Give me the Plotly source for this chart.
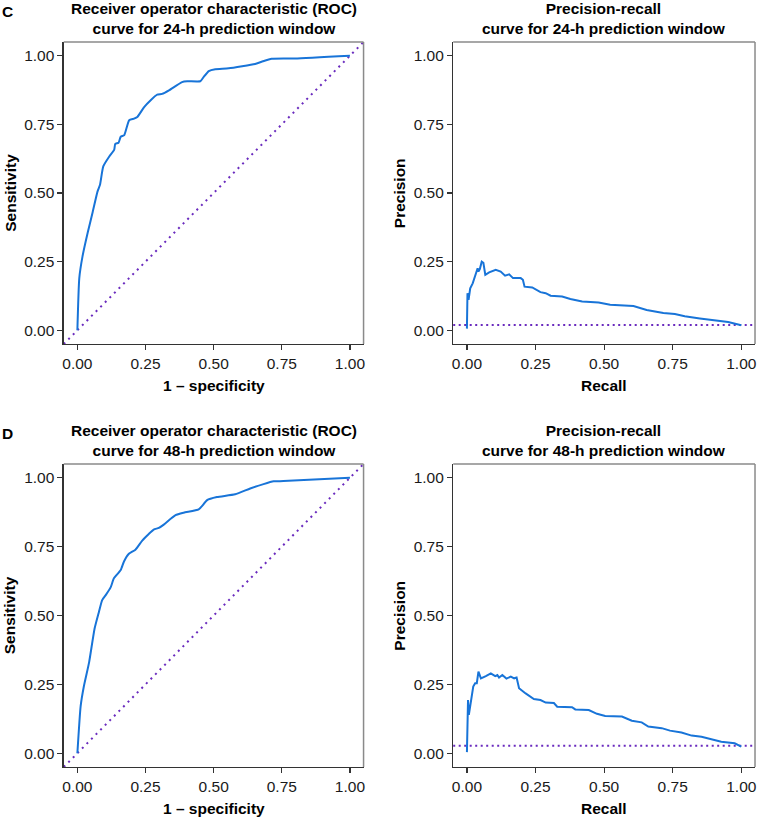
import plotly.graph_objects as go

# ---------------- data ----------------
roc24_fpr = [0.0, 0.007, 0.019, 0.038, 0.056, 0.074, 0.083, 0.095, 0.117, 0.135, 0.139, 0.151, 0.159, 0.172,
             0.190, 0.208, 0.220, 0.245, 0.269, 0.293, 0.311, 0.336, 0.384, 0.403, 0.451, 0.463, 0.482, 0.506,
             0.555, 0.652, 0.676, 0.713, 0.798, 1.0]
roc24_tpr = [0.0, 0.19, 0.27, 0.356, 0.43, 0.506, 0.53, 0.597, 0.633, 0.657, 0.679, 0.683, 0.705, 0.711,
             0.765, 0.771, 0.777, 0.813, 0.838, 0.858, 0.861, 0.874, 0.904, 0.907, 0.907, 0.922, 0.944, 0.951,
             0.954, 0.970, 0.978, 0.989, 0.990, 1.0]

roc48_fpr = [0.0, 0.012, 0.024, 0.043, 0.063, 0.079, 0.091, 0.104, 0.122, 0.134, 0.159, 0.171, 0.189, 0.213,
             0.238, 0.262, 0.280, 0.299, 0.317, 0.360, 0.390, 0.445, 0.457, 0.476, 0.512, 0.579, 0.634, 0.683,
             0.720, 0.756, 1.0]
roc48_tpr = [0.0, 0.171, 0.244, 0.33, 0.452, 0.513, 0.556, 0.574, 0.602, 0.635, 0.665, 0.696, 0.724, 0.739,
             0.772, 0.796, 0.812, 0.818, 0.830, 0.864, 0.873, 0.885, 0.897, 0.919, 0.930, 0.940, 0.961, 0.977,
             0.987, 0.988, 1.0]

pr24_recall = [0.0, 0.002, 0.006, 0.012, 0.021, 0.030, 0.039, 0.042, 0.047, 0.054, 0.060, 0.067, 0.081, 0.105,
               0.123, 0.139, 0.154, 0.168, 0.196, 0.204, 0.210, 0.238, 0.268, 0.287, 0.305, 0.347, 0.377, 0.420,
               0.480, 0.522, 0.607, 0.655, 0.716, 0.758, 0.794, 0.849, 0.903, 0.952, 1.0]
pr24_precision = [0.006, 0.135, 0.111, 0.153, 0.171, 0.196, 0.226, 0.214, 0.223, 0.250, 0.246, 0.202, 0.211, 0.220,
                  0.214, 0.199, 0.204, 0.190, 0.190, 0.184, 0.159, 0.156, 0.139, 0.135, 0.126, 0.123, 0.114, 0.105,
                  0.101, 0.093, 0.088, 0.074, 0.063, 0.059, 0.051, 0.043, 0.035, 0.030, 0.018]
pr24_baseline = 0.019

pr48_recall = [0.0, 0.004, 0.007, 0.015, 0.023, 0.030, 0.036, 0.042, 0.051, 0.069, 0.087, 0.103, 0.111, 0.117,
               0.129, 0.144, 0.160, 0.172, 0.181, 0.190, 0.214, 0.244, 0.268, 0.287, 0.317, 0.329, 0.383, 0.395,
               0.444, 0.474, 0.504, 0.565, 0.601, 0.637, 0.661, 0.710, 0.740, 0.782, 0.819, 0.855, 0.885, 0.927,
               0.976, 1.0]
pr48_precision = [0.004, 0.193, 0.139, 0.193, 0.242, 0.254, 0.254, 0.296, 0.272, 0.280, 0.290, 0.280, 0.284, 0.275,
                  0.284, 0.271, 0.278, 0.272, 0.275, 0.236, 0.217, 0.197, 0.193, 0.184, 0.182, 0.169, 0.167, 0.159,
                  0.157, 0.143, 0.135, 0.133, 0.118, 0.112, 0.097, 0.091, 0.082, 0.075, 0.064, 0.060, 0.052, 0.042,
                  0.036, 0.024]
pr48_baseline = 0.027

tick_vals = [0.0, 0.25, 0.5, 0.75, 1.0]
tick_text = ["0.00", "0.25", "0.50", "0.75", "1.00"]

titles = ["Receiver operator characteristic (ROC)<br>curve for 24-h prediction window",
          "Precision-recall<br>curve for 24-h prediction window",
          "Receiver operator characteristic (ROC)<br>curve for 48-h prediction window",
          "Precision-recall<br>curve for 48-h prediction window"]
x_titles = ["1 – specificity", "Recall", "1 – specificity", "Recall"]
y_titles = ["Sensitivity", "Precision", "Sensitivity", "Precision"]
panel_labels = ["C", "D"]

# ---------------- style ----------------
W, H = 759, 819
FONT = "Liberation Sans, Arial, sans-serif"
BLUE = "#1874D8"
PURPLE = "#6A2BBE"
AX_RANGE = [-0.05, 1.05]

left_dom = [63 / W, 364 / W]
right_dom = [454 / W, 757 / W]
top_dom = [1 - 344 / H, 1 - 42 / H]
bot_dom = [1 - 767 / H, 1 - 464 / H]

panels = [
    (left_dom, top_dom, roc24_fpr, roc24_tpr, None),
    (right_dom, top_dom, pr24_recall, pr24_precision, pr24_baseline),
    (left_dom, bot_dom, roc48_fpr, roc48_tpr, None),
    (right_dom, bot_dom, pr48_recall, pr48_precision, pr48_baseline),
]

fig = go.Figure()
layout = dict(
    width=W, height=H, margin=dict(l=0, r=0, t=0, b=0),
    paper_bgcolor="white", plot_bgcolor="white", showlegend=False,
    font=dict(family=FONT, size=15.5, color="#1a1a1a"),
)
shapes = []
annotations = []

for i, (xd, yd, xs, ys, base) in enumerate(panels):
    n = "" if i == 0 else str(i + 1)
    xa, ya = "x" + n, "y" + n
    axis_common = dict(range=AX_RANGE, tickvals=tick_vals, ticktext=tick_text,
                       showgrid=False, zeroline=False, showline=True, linecolor="#333333",
                       linewidth=1.3, ticks="outside", ticklen=5, tickwidth=1.2, tickcolor="#333333",
                       tickfont=dict(size=15.5, color="#1a1a1a"), fixedrange=True)
    layout["xaxis" + n] = dict(domain=xd, anchor=ya, **axis_common)
    layout["yaxis" + n] = dict(domain=yd, anchor=xa, **axis_common)

    # reference line
    if base is None:
        shapes.append(dict(type="line", xref=xa + " domain", yref=ya + " domain",
                           x0=0, y0=0, x1=1, y1=1, layer="below",
                           line=dict(color=PURPLE, width=2, dash="2px,4.5px")))
    else:
        shapes.append(dict(type="line", xref=xa + " domain", yref=ya,
                           x0=0, y0=base, x1=1, y1=base, layer="below",
                           line=dict(color=PURPLE, width=2, dash="2px,3.5px")))

    shape_kind = "spline" if base is None else "linear"
    fig.add_trace(go.Scatter(x=xs, y=ys, mode="lines", xaxis=xa, yaxis=ya,
                             line=dict(color=BLUE, width=2, shape=shape_kind, smoothing=0.5),
                             hoverinfo="skip"))

    # light top / right frame
    shapes.append(dict(type="line", xref=xa + " domain", yref=ya + " domain",
                       x0=0, y0=1, x1=1, y1=1, layer="above", line=dict(color="#8a8a8a", width=1.5)))
    shapes.append(dict(type="line", xref=xa + " domain", yref=ya + " domain",
                       x0=1, y0=0, x1=1, y1=1, layer="above", line=dict(color="#8a8a8a", width=1.5)))

    xc = (xd[0] + xd[1]) / 2
    yc = (yd[0] + yd[1]) / 2
    annotations.append(dict(text="<b>" + titles[i] + "</b>", xref="paper", yref="paper",
                            x=xc, y=yd[1], yshift=24, xanchor="center", yanchor="middle",
                            showarrow=False, font=dict(size=15.5, color="#000000")))
    annotations.append(dict(text="<b>" + x_titles[i] + "</b>", xref="paper", yref="paper",
                            x=xc, y=yd[0], yshift=-41, xanchor="center", yanchor="middle",
                            showarrow=False, font=dict(size=15.5, color="#000000")))
    annotations.append(dict(text="<b>" + y_titles[i] + "</b>", xref="paper", yref="paper",
                            x=xd[0], xshift=-54, y=yc, xanchor="center", yanchor="middle",
                            textangle=-90, showarrow=False, font=dict(size=15.5, color="#000000")))

for j, lab in enumerate(panel_labels):
    yd = top_dom if j == 0 else bot_dom
    annotations.append(dict(text="<b>" + lab + "</b>", xref="paper", yref="paper",
                            x=7 / W, y=yd[1], yshift=31, xanchor="center", yanchor="middle",
                            showarrow=False, font=dict(size=15.5, color="#000000")))

layout["shapes"] = shapes
layout["annotations"] = annotations
fig.update_layout(**layout)
fig.write_html("out.html", config={"displayModeBar": False, "staticPlot": True},
               post_script="document.body.style.margin='0px';document.body.style.overflow='hidden';")
